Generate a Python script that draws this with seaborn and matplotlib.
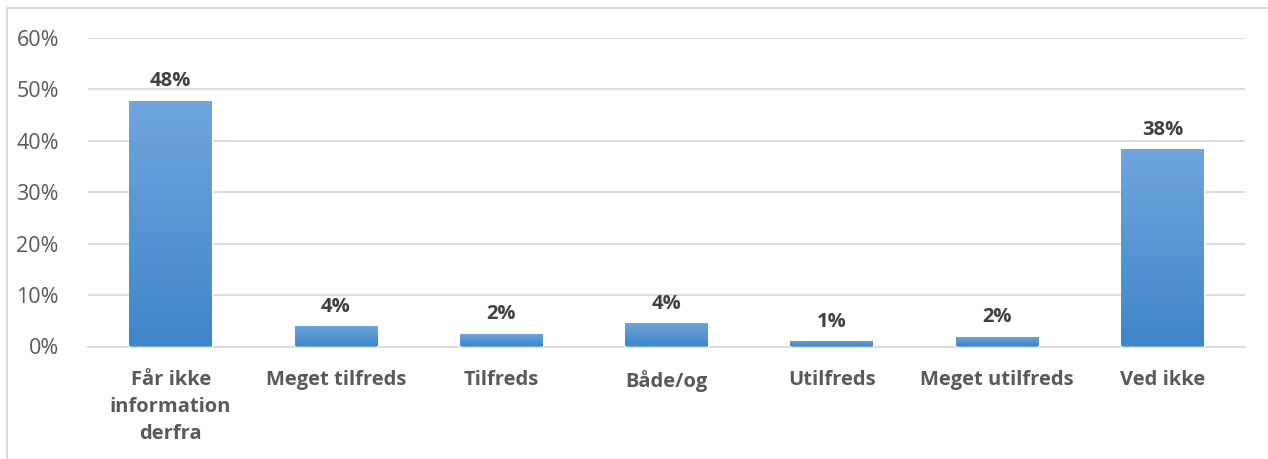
import matplotlib
matplotlib.use("Agg")
import matplotlib.pyplot as plt
import numpy as np
import pandas as pd
import seaborn as sns
from matplotlib.lines import Line2D
from matplotlib.colors import LinearSegmentedColormap

categories = ["Får ikke\ninformation\nderfra", "Meget tilfreds", "Tilfreds",
              "Både/og", "Utilfreds", "Meget utilfreds", "Ved ikke"]
values = [47.8, 3.9, 2.5, 4.5, 1.1, 1.9, 38.4]
labels = ["48%", "4%", "2%", "4%", "1%", "2%", "38%"]
yticks = [0, 10, 20, 30, 40, 50, 60]

sns.set_theme(style="white")
plt.rcParams['font.family'] = ['Open Sans', 'DejaVu Sans']

fig = plt.figure(figsize=(12.68, 4.59), dpi=100)
ax = fig.add_axes([88/1268, (459-346.5)/459, (1245-88)/1268, (346.5-38)/459])

df = pd.DataFrame({"cat": categories, "val": values})
sns.barplot(data=df, x="cat", y="val", color="#5B9BD5", width=0.5, ax=ax,
            saturation=1, zorder=3)

ax.set_ylim(0, 60)
ax.set_xlim(-0.5, 6.5)
ax.set_yticks(yticks)
ax.set_yticklabels([f"{t}%" for t in yticks], color="#595959", fontsize=15.5)
ax.tick_params(axis="y", length=0, pad=21)
ax.tick_params(axis="x", length=0, pad=17)
for t in ax.get_xticklabels():
    t.set_fontweight("bold")
    t.set_color("#595959")
    t.set_fontsize(14.5)
    t.set_linespacing(1.45)
ax.set_xlabel("")
ax.set_ylabel("")
ax.grid(axis="y", color="#D9D9D9", linewidth=1.3, zorder=0)
for s in ["left", "right", "top"]:
    ax.spines[s].set_visible(False)
ax.spines["bottom"].set_color("#D9D9D9")
ax.spines["bottom"].set_linewidth(1.3)

# gradient fill + labels
cmap = LinearSegmentedColormap.from_list("g", ["#3F85C9", "#70A6DC"])
grad = np.linspace(0, 1, 256).reshape(-1, 1)
for p, lab in zip(ax.patches, labels):
    x0, y0 = p.get_x(), p.get_y()
    w, h = p.get_width(), p.get_height()
    im = ax.imshow(grad, cmap=cmap, origin="lower", aspect="auto",
                   extent=[x0, x0 + w, y0, y0 + h], zorder=4)
    im.set_clip_path(p)
    ax.text(x0 + w / 2, h + 1.8, lab, ha="center", va="bottom",
            fontsize=14.5, fontweight="bold", color="#404040", zorder=5)
ax.set_xlim(-0.5, 6.5)
ax.set_ylim(0, 60)

# chart frame
fig.add_artist(Line2D([7/1268, 7/1268], [0, (459-8)/459], color="#D9D9D9", linewidth=1.3, transform=fig.transFigure))
fig.add_artist(Line2D([7/1268, 1], [(459-8)/459, (459-8)/459], color="#D9D9D9", linewidth=1.3, transform=fig.transFigure))

fig.savefig("out.png", dpi=100)
